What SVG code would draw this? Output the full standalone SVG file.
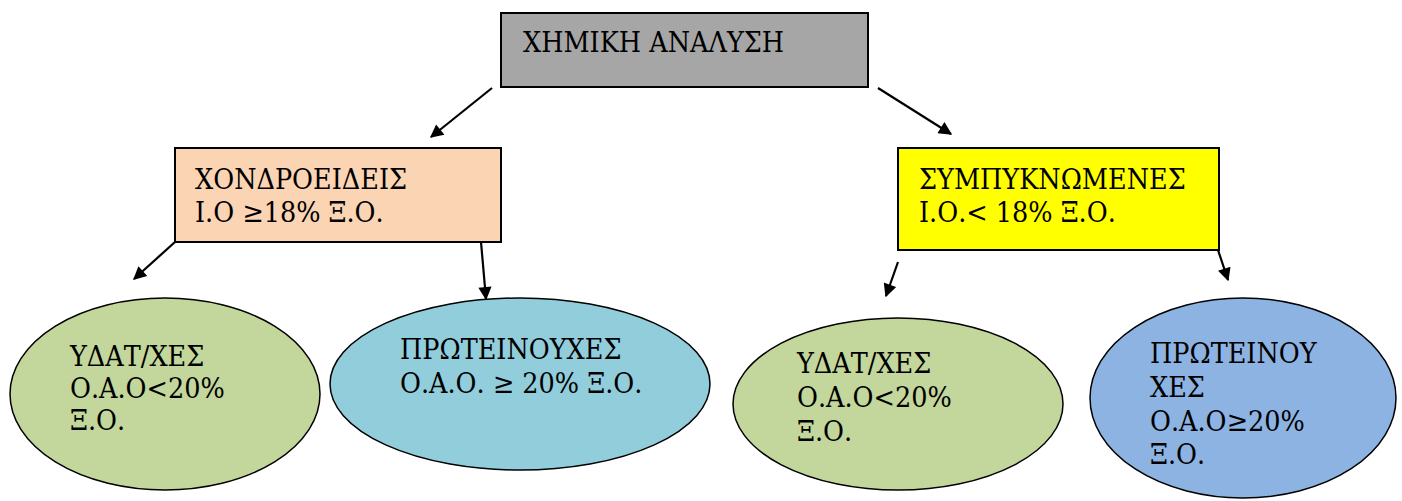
<svg xmlns="http://www.w3.org/2000/svg" width="1402" height="501" viewBox="0 0 1402 501">
<style>
.box{stroke:#000;stroke-width:2}
.ell{stroke:#000;stroke-width:1.5}
.t{font-family:'DejaVu Serif',serif;font-stretch:condensed;font-size:28.4px;fill:#000}
.c{stroke:#000;stroke-width:2.2;fill:none;marker-end:url(#ah)}
</style>
<defs>
<marker id="ah" viewBox="0 0 10 10" refX="9" refY="5" markerWidth="7" markerHeight="6" markerUnits="strokeWidth" orient="auto">
<path d="M0,0 L10,5 L0,10 z" fill="#000"/>
</marker>
</defs>
<rect width="1402" height="501" fill="#fff"/>
<g id="connectors">
<line class="c" x1="492" y1="88" x2="431" y2="137"/>
<line class="c" x1="878" y1="88" x2="951" y2="134"/>
<line class="c" x1="175" y1="242" x2="134" y2="279"/>
<line class="c" x1="481" y1="242" x2="486" y2="299"/>
<line class="c" x1="898" y1="262" x2="886" y2="296"/>
<line class="c" x1="1218" y1="250" x2="1228" y2="280"/>
</g>
<g id="n-root">
<rect class="box" x="501" y="13" width="367" height="74" fill="#a6a6a6"/>
<text class="t" x="523" y="52">ΧΗΜΙΚΗ ΑΝΑΛΥΣΗ</text>
</g>
<g id="n-chondro">
<rect class="box" x="175" y="148" width="326" height="94" fill="#fbd4b4"/>
<text class="t" x="195" y="189">ΧΟΝΔΡΟΕΙΔΕΙΣ</text>
<text class="t" x="195" y="222">Ι.Ο ≥18% Ξ.Ο.</text>
</g>
<g id="n-sympyk">
<rect class="box" x="898" y="148" width="321" height="102" fill="#ffff00"/>
<text class="t" x="919" y="189">ΣΥΜΠΥΚΝΩΜΕΝΕΣ</text>
<text class="t" x="919" y="222">Ι.Ο.&lt; 18% Ξ.Ο.</text>
</g>
<g id="n-ydat1">
<ellipse class="ell" cx="165" cy="394" rx="155" ry="96" fill="#c3d69b"/>
<text class="t" x="70" y="366">ΥΔΑΤ/ΧΕΣ</text>
<text class="t" x="70" y="398">Ο.Α.Ο&lt;20%</text>
<text class="t" x="70" y="430">Ξ.Ο.</text>
</g>
<g id="n-prot1">
<ellipse class="ell" cx="520" cy="384" rx="190" ry="86" fill="#92cddc"/>
<text class="t" x="400" y="359">ΠΡΩΤΕΙΝΟΥΧΕΣ</text>
<text class="t" x="400" y="393">Ο.Α.Ο. ≥ 20% Ξ.Ο.</text>
</g>
<g id="n-ydat2">
<ellipse class="ell" cx="898" cy="404" rx="165" ry="86" fill="#c3d69b"/>
<text class="t" x="797" y="373">ΥΔΑΤ/ΧΕΣ</text>
<text class="t" x="797" y="407">Ο.Α.Ο&lt;20%</text>
<text class="t" x="797" y="441">Ξ.Ο.</text>
</g>
<g id="n-prot2">
<ellipse class="ell" cx="1243" cy="398" rx="153" ry="100" fill="#8db3e2"/>
<text class="t" x="1150" y="363">ΠΡΩΤΕΙΝΟΥ</text>
<text class="t" x="1150" y="397">ΧΕΣ</text>
<text class="t" x="1150" y="431">Ο.Α.Ο≥20%</text>
<text class="t" x="1150" y="464">Ξ.Ο.</text>
</g>
</svg>
